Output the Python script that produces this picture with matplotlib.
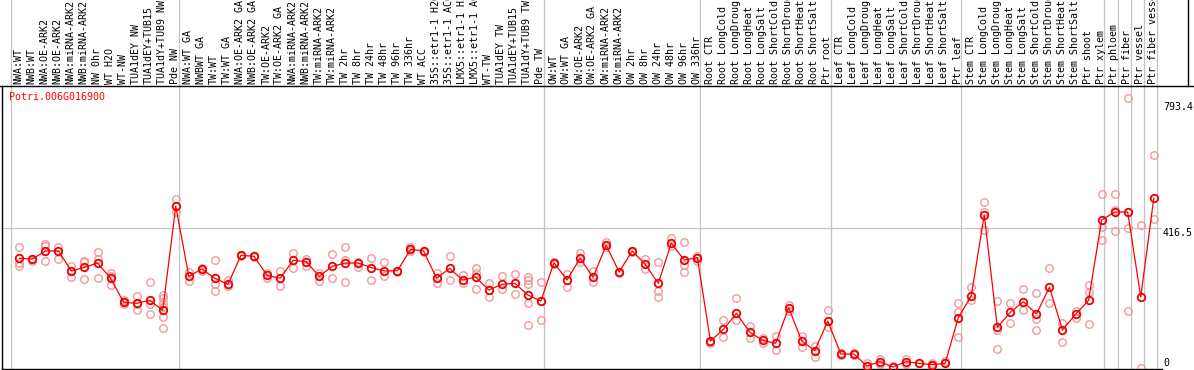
import matplotlib
matplotlib.use("Agg")
import matplotlib.pyplot as plt
import matplotlib.transforms as mtransforms
from matplotlib.lines import Line2D

title = "Potri.006G016900"

labels = [
    "NWA:WT", "NWB:WT", "NWA:OE-ARK2", "NWB:OE-ARK2", "NWA:miRNA-ARK2", "NWB:miRNA-ARK2",
    "NW 0hr", "WT H2O", "WT-NW", "TUA1dEY NW", "TUA1dEY+TUB15", "TUA1dY+TUB9 NW", "Pde NW",
    "NWA:WT GA", "NWBWT GA", "TW:WT", "TW:WT GA", "NWA:OE-ARK2 GA", "NWB:OE-ARK2 GA",
    "TW:OE-ARK2", "TW:OE-ARK2 GA", "NWA:miRNA-ARK2", "NWB:miRNA-ARK2", "TW:miRNA-ARK2",
    "TW:miRNA-ARK2", "TW 2hr", "TW 8hr", "TW 24hr", "TW 48hr", "TW 96hr", "TW 336hr",
    "WT ACC", "35S::etr1-1 H2O", "35S::etr1-1 ACC", "LMX5::etr1-1 H2O", "LMX5::etr1-1 ACC",
    "WT-TW", "TUA1dEY TW", "TUA1dEY+TUB15", "TUA1dY+TUB9 TW", "Pde TW",
    "OW:WT", "OW:WT GA", "OW:OE-ARK2", "OW:OE-ARK2 GA", "OW:miRNA-ARK2", "OW:miRNA-ARK2",
    "OW 2hr", "OW 8hr", "OW 24hr", "OW 48hr", "OW 96hr", "OW 336hr",
    "Root CTR", "Root LongCold", "Root LongDrought", "Root LongHeat", "Root LongSalt",
    "Root ShortCold", "Root ShortDrought", "Root ShortHeat", "Root ShortSalt", "Ptr root",
    "Leaf CTR", "Leaf LongCold", "Leaf LongDrought", "Leaf LongHeat", "Leaf LongSalt",
    "Leaf ShortCold", "Leaf ShortDrought", "Leaf ShortHeat", "Leaf ShortSalt", "Ptr leaf",
    "Stem CTR", "Stem LongCold", "Stem LongDrought", "Stem LongHeat", "Stem LongSalt",
    "Stem ShortCold", "Stem ShortDrought", "Stem ShortHeat", "Stem ShortSalt", "Ptr shoot",
    "Ptr xylem", "Ptr phloem", "Ptr fiber", "Ptr vessel", "Ptr fiber vessel",
]

means = [
    326.9, 324.8, 348.7, 348.7, 289, 300, 312.9, 267.3, 195.8, 192.8,
    201.7, 171.9, 481.9, 273.3, 295, 267.3, 249.4, 335.8, 332.8, 276.2,
    267.3, 320.9, 316.9, 273.3, 303, 312.9, 312.9, 299, 289, 290,
    353.6, 348.7, 267.3, 297, 262.2, 271.2, 232.4, 249.4, 252.4, 217.5,
    199.7, 313.9, 262.2, 326.9, 270.2, 365.6, 286, 348.7, 309, 252.4,
    371.5, 321.8, 328.7, 80.5, 115.2, 163, 107.3, 82.5, 73.6, 179.8,
    80.5, 51.7, 140, 41.7, 41.7, 6, 18.9, 3, 18.9, 13.9,
    9.9, 13.9, 149, 214.6, 456, 121.3, 166, 197.7, 160.9, 240.5,
    113.2, 160, 201.7, 441, 464.9, 464.9, 211.6, 505.7,
]

replicates = [
    [359.6, 312, 304], [325, 318], [368.6, 363.6, 318.9], [360.6, 325.7],
    [304.9, 272, 290], [318.9, 265.2, 315], [345.7, 325.7, 267.3], [284, 246.4, 275],
    [201.7, 190.7, 196], [214.6, 172.8, 192], [255.4, 190.7, 160],
    [218.4, 208, 195, 182.7, 151, 118.3], [503.6, 464], [286, 260.2], [290, 298],
    [321.8, 250.3, 228.5], [262.2, 245], [335.8, 333], [332.8, 330], [282, 267.3],
    [290, 243.4], [343.7, 299], [325.7, 304], [284, 260.2], [339.7, 267.3],
    [359.6, 320.9, 255.4], [316.9, 300], [326.9, 262.2], [315.9, 274.2], [290, 287],
    [361.6, 349], [348.7, 345], [284, 252.4], [332.8, 262.2], [277, 252.4],
    [297, 284, 234.5], [252.4, 210.7], [275.1, 234.5], [280, 219.6],
    [272, 262, 250.3, 192.8, 127.2], [255.4, 143], [317, 310], [280, 240.5],
    [341.7, 317], [289, 255.4], [375.5, 362], [286, 283], [348.7, 345],
    [324.8, 294.1], [315.9, 229.5, 212.5], [387.4, 364], [374.6, 306, 285.2],
    [335, 318], [78, 75], [143, 91.4], [207.7, 143], [125.2, 88.4], [90, 73.6],
    [95.4, 53.6], [189, 169.9], [96.4, 63.6], [65.6, 31.8], [172.8, 123.2],
    [44, 39], [44, 39], [13.9], [25.8, 12], [6], [25.8, 12], [13.9], [13.9, 6],
    [21.8], [192.8, 168, 93.4], [240.5, 202.6], [493.8, 466, 411.2],
    [199.7, 113.2, 56.6], [192.8, 134.1], [234.5, 172.8], [222.5, 145, 113.2],
    [297, 192.8], [133.1, 77.5], [169.9, 150], [247.3, 227.4, 130.2],
    [517.6, 421.1, 381.4], [517.6, 470.8, 407.4], [803.7, 416.3, 169.9],
    [426.1, 0], [633.8, 443.1],
]

# group separators (after these category indices)
group_ends = [12, 40, 52, 62, 72, 83, 84, 85, 86, 87]
right_ticks = [793.4, 416.5, 0]

W, H = 1194, 370
DPI = 100
fig = plt.figure(figsize=(W / DPI, H / DPI), dpi=DPI)
fig.patch.set_facecolor("white")

ax_left, ax_right, ax_top, ax_bottom = 2, 1162, 86, 369
ax = fig.add_axes([ax_left / W, 1 - ax_bottom / H, (ax_right - ax_left) / W,
                   (ax_bottom - ax_top) / H])

x0_px, step_px = 19.3, 13.04
ax.set_xlim((ax_left - x0_px) / step_px, (ax_right - x0_px) / step_px)
ppv = 2.98  # value per pixel
ax.set_ylim(-(ax_bottom - 368) * ppv, (368 - ax_top) * ppv)

mono = "DejaVu Sans Mono"
fs = 7.2

grid_c = "#c4c4c4"
# vertical separators extending into label area
seps = [-0.66] + [g + 0.22 for g in group_ends]
ymax_ext = (ax_bottom - 0) / (ax_bottom - ax_top)
for s in seps:
    ax.axvline(s, ymin=0, ymax=ymax_ext, color=grid_c, lw=0.9, clip_on=False, zorder=0)
ax.axhline(right_ticks[1], color=grid_c, lw=0.9, zorder=0)

# replicates
for i, reps in enumerate(replicates):
    ax.plot([i] * len(reps), reps, linestyle="none", marker="o", ms=5.4,
            mfc="none", mec="#f09a9a", mew=1.0, zorder=2, clip_on=True)

# means
xs = list(range(len(means)))
ax.plot(xs, means, color="#ff0000", lw=0.9, marker="o", ms=5.4, mfc="none",
        mec="#ee0000", mew=1.3, zorder=3)

# spines
for side in ["top", "right"]:
    ax.spines[side].set_visible(False)
ax.spines["left"].set_color("black")
ax.spines["bottom"].set_color("black")
ax.spines["left"].set_linewidth(1.0)
ax.spines["bottom"].set_linewidth(1.0)
ax.set_xticks([])
ax.set_yticks([])
ax.patch.set_alpha(0)

# category labels in the header band
trans = mtransforms.blended_transform_factory(ax.transData, ax.transAxes)
ylab = (ax_bottom - 84) / (ax_bottom - ax_top)
for i, lab in enumerate(labels):
    ax.text(i - 0.05, ylab, lab, rotation=90, ha="center", va="bottom",
            fontsize=fs, family=mono, color="black", transform=trans, clip_on=False)

# header band frame
fig.add_artist(Line2D([0, 1], [1 - ax_top / H] * 2, color="black", lw=1.0,
                      transform=fig.transFigure))
fig.add_artist(Line2D([1188 / W] * 2, [1 - ax_top / H, 1], color="black", lw=1.0,
                      transform=fig.transFigure))

# title
fig.text(9 / W, 1 - 97 / H, title, color="#ff0000", fontsize=fs, family=mono,
         ha="left", va="center")

# right value labels
tlab = mtransforms.blended_transform_factory(fig.transFigure, ax.transData)
fig_x = 1163 / W
ax.text(fig_x, right_ticks[0], f"{right_ticks[0]}", transform=tlab, ha="left", va="top",
        fontsize=fs, family=mono, color="black", clip_on=False)
ax.text(fig_x, right_ticks[1], f"{right_ticks[1]}", transform=tlab, ha="left", va="top",
        fontsize=fs, family=mono, color="black", clip_on=False)
ax.text(fig_x, right_ticks[2], f"{right_ticks[2]:g}", transform=tlab, ha="left",
        va="bottom", fontsize=fs, family=mono, color="black", clip_on=False)

fig.savefig("out.png", dpi=DPI, facecolor="white")
